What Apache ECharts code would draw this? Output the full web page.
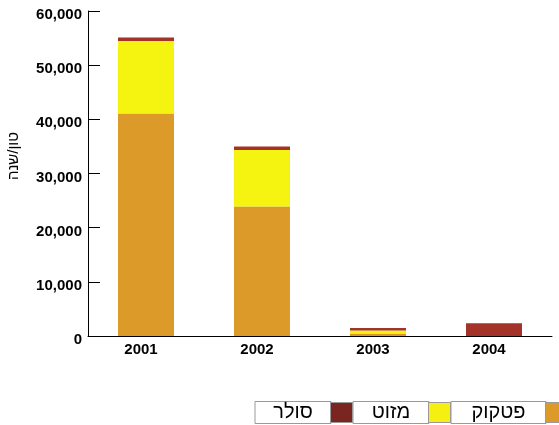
<!DOCTYPE html>
<html>
<head>
<meta charset="utf-8">
<script src="https://cdn.jsdelivr.net/npm/echarts@6/dist/echarts.min.js"></script>
<style>
  html, body { margin: 0; padding: 0; background: #fff; }
  #chart { width: 559px; height: 425px; }
</style>
</head>
<body>
<div id="chart"></div>
<script>
// כמויות דלק לפי שנה (טון/שנה)
var years = ['2001', '2002', '2003', '2004']
var seriesNames = ['פטקוק', 'מזוט', 'סולר']
var petcoke = [41100, 23900, 450, 0]
var mazut = [13350, 10450, 550, 0]
var solar = [680, 650, 480, 2340]
var yTicks = [0, 10000, 20000, 30000, 40000, 50000, 60000]

var barColors = ['#dc9a28', '#f5f411', '#a33228']
var legendColors = ['#dc9a28', '#f5f011', '#7b2521']
var legendOrder = ['סולר', 'מזוט', 'פטקוק']
var cellWidths = { 'סולר': 76, 'מזוט': 76, 'פטקוק': 95 }

var font = "'Liberation Sans', 'DejaVu Sans', Arial, sans-serif"
var chart = echarts.init(document.getElementById('chart'), null, { renderer: 'canvas' })

var rich = {}
legendOrder.forEach(function (n, i) {
  rich['t' + i] = {
    width: cellWidths[n],
    height: 22,
    align: 'center',
    verticalAlign: 'middle',
    fontSize: 20,
    fontFamily: font,
    color: '#000',
    borderColor: '#9a9a9a',
    borderWidth: 1
  }
  var ci = seriesNames.indexOf(n)
  rich['c' + i] = {
    width: 21,
    height: 19,
    verticalAlign: 'middle',
    backgroundColor: legendColors[ci],
    borderColor: '#9a9a9a',
    borderWidth: 1
  }
})

var datasets = [petcoke, mazut, solar]

chart.setOption({
  animation: false,
  textStyle: { fontFamily: font },
  grid: { left: 88, right: 7, top: 11, bottom: 89 },
  legend: {
    data: legendOrder,
    left: 250,
    top: 401,
    padding: 0,
    width: 600,
    orient: 'horizontal',
    itemWidth: 0,
    itemHeight: 0,
    itemGap: -5,
    selectedMode: false,
    formatter: function (name) {
      var i = legendOrder.indexOf(name)
      return '{t' + i + '|' + name + '}{c' + i + '| }'
    },
    textStyle: { rich: rich }
  },
  graphic: [{
    type: 'text',
    x: 14,
    y: 156,
    rotation: Math.PI / 2,
    style: {
      text: 'טון/שנה',
      fontSize: 15,
      fontFamily: font,
      fill: '#000',
      align: 'center',
      verticalAlign: 'middle'
    }
  }],
  xAxis: {
    type: 'category',
    data: years,
    axisLine: { lineStyle: { color: '#000', width: 1 } },
    axisTick: { inside: true, length: 7, lineStyle: { color: '#000' } },
    axisLabel: {
      color: '#000',
      fontSize: 15,
      fontWeight: 'bold',
      margin: 6,
      padding: [0, 10, 0, 0]
    }
  },
  yAxis: {
    type: 'value',
    min: yTicks[0],
    max: yTicks[yTicks.length - 1],
    interval: 10000,
    axisLine: { show: true, lineStyle: { color: '#000', width: 1 } },
    axisTick: { show: true, inside: true, length: 12, lineStyle: { color: '#000' } },
    splitLine: { show: false },
    axisLabel: {
      color: '#000',
      margin: 6,
      formatter: function (v) { return '{a|' + v.toLocaleString('en-US') + '}' },
      rich: {
        a: {
          fontSize: 15,
          fontWeight: 'bold',
          fontFamily: font,
          color: '#000',
          padding: [8, 0, 0, 0]
        }
      }
    }
  },
  series: seriesNames.map(function (n, i) {
    return {
      name: n,
      type: 'bar',
      stack: 'total',
      barWidth: 56,
      itemStyle: { color: barColors[i] },
      data: datasets[i]
    }
  })
})
</script>
</body>
</html>
